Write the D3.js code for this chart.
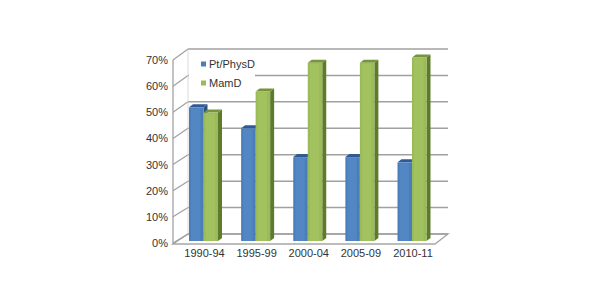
<!DOCTYPE html>
<html><head><meta charset="utf-8">
<script src="https://cdn.jsdelivr.net/npm/d3@7"></script>
<style>body{margin:0;background:#fff}svg{display:block}</style>
</head><body>
<svg id="c" width="598" height="297"></svg>
<script>
const categories = ["1990-94","1995-99","2000-04","2005-09","2010-11"];
const seriesNames = ["Pt/PhysD","MamD"];
const physD = [51, 43, 32, 32, 30];
const mamD = [49, 57, 68, 68, 70];
const yTicks = [0,10,20,30,40,50,60,70];

const svg = d3.select("#c");
const font = "Liberation Sans, Arial, sans-serif";

const yFront = d3.scaleLinear().domain([0,70]).range([243,60]);
const yBack = d3.scaleLinear().domain([0,70]).range([234,49]);
const yBar = d3.scaleLinear().domain([0,70]).range([241,57.5]);
const x = d3.scalePoint().domain(categories).range([203.5,412]);
const xFrontL = 173, xBackL = 188, xBackR = 448, xFrontR = 435;
const bw = 14.5, dx = 4, dy = -3;

const g = svg.append("g");
g.append("path")
  .attr("d", `M${xFrontL},${yFront(0)+1}L${xFrontR},${yFront(0)+1}L${xBackR},${yBack(0)}L${xBackL},${yBack(0)}Z`)
  .attr("fill","#fff").attr("stroke","#a6a6a6").attr("stroke-width",1.3);
yTicks.forEach(t=>{
  g.append("line").attr("x1",xBackL).attr("x2",xBackR).attr("y1",yBack(t)).attr("y2",yBack(t))
    .attr("stroke","#a0a0a0").attr("stroke-width",1.5);
  g.append("line").attr("x1",xFrontL).attr("x2",xBackL).attr("y1",yFront(t)).attr("y2",yBack(t))
    .attr("stroke","#a0a0a0").attr("stroke-width",1.2);
});
g.append("line").attr("x1",xFrontL).attr("x2",xFrontL).attr("y1",yFront(70)).attr("y2",yFront(0)+1)
  .attr("stroke","#9a9a9a").attr("stroke-width",1.2);
g.append("line").attr("x1",xBackL).attr("x2",xBackL).attr("y1",yBack(70)).attr("y2",yBack(0))
  .attr("stroke","#d0d0d0").attr("stroke-width",0.8);

g.append("rect").attr("x",189).attr("y",52).attr("width",66).attr("height",42).attr("fill","#fff");
const legColors = ["#4a7ebb","#9bbb59"];
seriesNames.forEach((n,i)=>{
  g.append("rect").attr("x",201).attr("y",61.5+i*19).attr("width",5).attr("height",5).attr("fill",legColors[i]);
  g.append("text").attr("x",209).attr("y",68+i*19).text(n)
    .attr("font-family",font).attr("font-size",11).attr("fill","#333");
});

const palettes = [
  {front:"#4a7ebb", frontHi:"#5b8fcc", top:"#2f5a96", side:"#2b5087"},
  {front:"#9bbb59", frontHi:"#a9c865", top:"#76943a", side:"#5e7a2b"}
];
function bar(x0, v, p){
  const y0 = yBar(0), y1 = yBar(v);
  const bg = g.append("g");
  bg.append("path").attr("d",`M${x0+bw},${y1}L${x0+bw+dx},${y1+dy}L${x0+bw+dx},${y0+dy}L${x0+bw},${y0}Z`).attr("fill",p.side);
  bg.append("path").attr("d",`M${x0},${y1}L${x0+dx},${y1+dy}L${x0+bw+dx},${y1+dy}L${x0+bw},${y1}Z`).attr("fill",p.top);
  bg.append("rect").attr("x",x0).attr("y",y1).attr("width",bw).attr("height",y0-y1).attr("fill",p.front);
  bg.append("rect").attr("x",x0+2).attr("y",y1+1).attr("width",bw-5).attr("height",y0-y1-1).attr("fill",p.frontHi).attr("opacity",0.5);
}
categories.forEach((c,i)=>{
  const cx = x(c);
  bar(cx-bw, physD[i], palettes[0]);
  bar(cx, mamD[i], palettes[1]);
});

yTicks.forEach(t=>{
  svg.append("text").attr("x",168).attr("y",yFront(t)+4).attr("text-anchor","end")
    .attr("font-family",font).attr("font-size",11).attr("fill","#333").text(t+"%");
});
categories.forEach(c=>{
  svg.append("text").attr("x",x(c)+1).attr("y",257).attr("text-anchor","middle")
    .attr("font-family",font).attr("font-size",11).attr("fill","#333").text(c);
});
</script>
</body></html>
